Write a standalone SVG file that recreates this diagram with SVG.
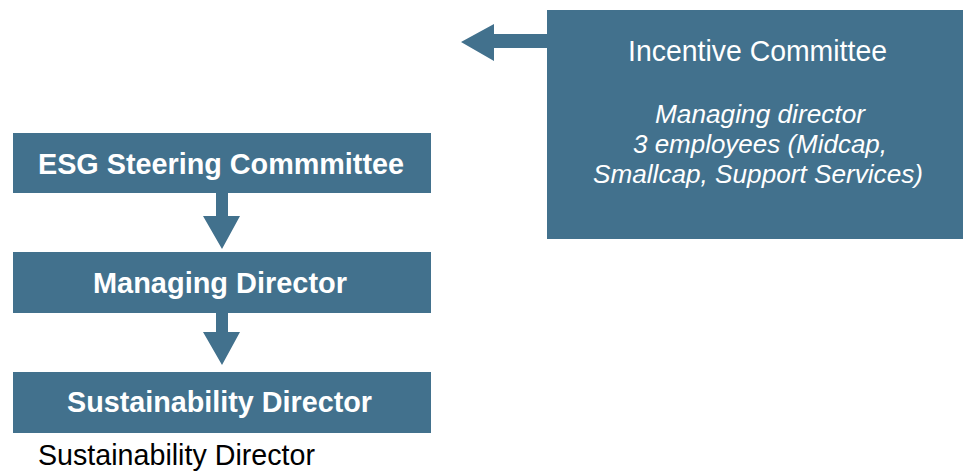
<svg xmlns="http://www.w3.org/2000/svg" width="965" height="471" viewBox="0 0 965 471">
  <style>
    .box { fill: #42718D; }
    .arrow { fill: #42718D; }
    text { font-family: "Liberation Sans", Arial, sans-serif; }
    .bold { font-weight: bold; font-size: 29px; fill: #ffffff; }
    .title { font-size: 29px; fill: #ffffff; }
    .sub { font-style: italic; font-size: 26px; fill: #ffffff; }
    .caption { font-size: 29px; fill: #000000; }
  </style>

  <!-- connectors: block arrows -->
  <g id="connectors">
    <polygon class="arrow" points="547,34 494,34 494,24 461,42 494,61 494,48 547,48"/>
    <polygon class="arrow" points="216,193 228,193 228,216 240,216 222,249 203,216 216,216"/>
    <polygon class="arrow" points="216,313 228,313 228,332 240,332 222,365 203,332 216,332"/>
  </g>

  <g id="incentive-committee">
    <rect class="box" x="547" y="10" width="416" height="229"/>
    <text class="title" x="628" y="61" textLength="259" lengthAdjust="spacingAndGlyphs">Incentive Committee</text>
    <text class="sub" x="655" y="123" textLength="210" lengthAdjust="spacingAndGlyphs">Managing director</text>
    <text class="sub" x="633" y="153" textLength="254" lengthAdjust="spacingAndGlyphs">3 employees (Midcap,</text>
    <text class="sub" x="593" y="183" textLength="330" lengthAdjust="spacingAndGlyphs">Smallcap, Support Services)</text>
  </g>

  <g id="esg-steering-committee">
    <rect class="box" x="13" y="133" width="418" height="60"/>
    <text class="bold" x="38" y="174" textLength="366" lengthAdjust="spacingAndGlyphs">ESG Steering Commmittee</text>
  </g>

  <g id="managing-director">
    <rect class="box" x="13" y="252" width="418" height="61"/>
    <text class="bold" x="93" y="293" textLength="254" lengthAdjust="spacingAndGlyphs">Managing Director</text>
  </g>

  <g id="sustainability-director">
    <rect class="box" x="13" y="372" width="418" height="61"/>
    <text class="bold" x="67" y="412" textLength="305" lengthAdjust="spacingAndGlyphs">Sustainability Director</text>
    <text class="caption" x="38" y="465" textLength="277" lengthAdjust="spacingAndGlyphs">Sustainability Director</text>
  </g>
</svg>
